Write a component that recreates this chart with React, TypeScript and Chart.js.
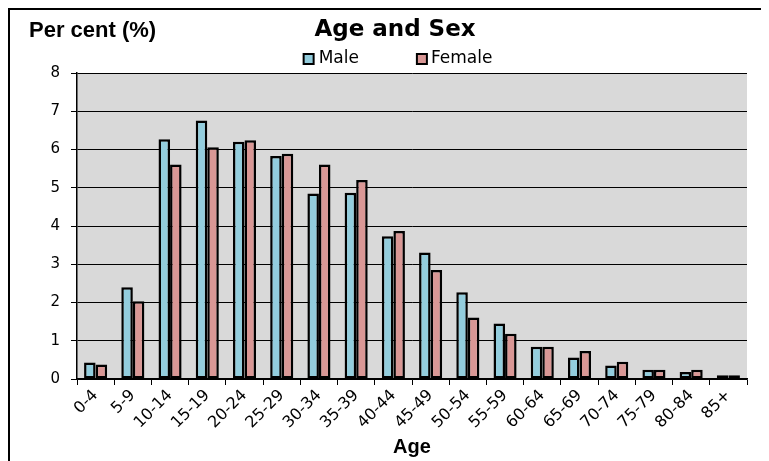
import React, { useEffect, useRef } from "react";
import { Chart, registerables } from "chart.js";

Chart.register(...registerables);

const categories = ["0-4", "5-9", "10-14", "15-19", "20-24", "25-29", "30-34", "35-39", "40-44", "45-49", "50-54", "55-59", "60-64", "65-69", "70-74", "75-79", "80-84", "85+"];
const maleValues = [0.43, 2.4, 6.27, 6.76, 6.2, 5.83, 4.85, 4.87, 3.73, 3.31, 2.27, 1.45, 0.84, 0.56, 0.35, 0.24, 0.18, 0.1];
const femaleValues = [0.38, 2.03, 5.61, 6.06, 6.24, 5.89, 5.61, 5.2, 3.87, 2.85, 1.61, 1.18, 0.84, 0.73, 0.45, 0.24, 0.24, 0.1];
const seriesNames = ["Male", "Female"];
const seriesColors = ["#93CDDD", "#D99795"];
const yTicks = [0, 1, 2, 3, 4, 5, 6, 7, 8];
const chartTitle = "Age and Sex";
const yAxisLabel = "Per cent (%)";
const xAxisLabel = "Age";

const bgPlugin = {
  id: "plotBg",
  beforeDraw(chart: any) {
    const { ctx, chartArea } = chart;
    ctx.save();
    ctx.fillStyle = "#D9D9D9";
    ctx.fillRect(chartArea.left, chartArea.top, chartArea.right - chartArea.left, chartArea.bottom - chartArea.top);
    ctx.restore();
  },
};

const extrasPlugin = {
  id: "extras",
  afterDraw(chart: any) {
    const { ctx, chartArea } = chart;
    ctx.save();
    ctx.fillStyle = "#000";
    ctx.font = "bold 22px 'Liberation Sans'";
    ctx.textAlign = "left";
    ctx.textBaseline = "middle";
    ctx.fillText(yAxisLabel, 19, 21);

    const tb = chart.titleBlock;
    const center = tb ? (tb.left + tb.right) / 2 + 3 : chart.width / 2;
    ctx.font = "17px 'DejaVu Sans'";
    const wM = ctx.measureText(seriesNames[0]).width;
    const wF = ctx.measureText(seriesNames[1]).width;
    const box = 10;
    const total = box + 5 + wM + 58 + box + 4 + wF;
    let x = center - total / 2;
    const y = chartArea.top - 14;
    const drawBox = (bx: number, color: string) => {
      ctx.fillStyle = color;
      ctx.fillRect(bx, y - box / 2, box, box);
      ctx.strokeStyle = "#000";
      ctx.lineWidth = 2;
      ctx.strokeRect(bx, y - box / 2, box, box);
    };
    drawBox(x, seriesColors[0]);
    x += box + 5;
    ctx.fillStyle = "#000";
    ctx.textBaseline = "middle";
    ctx.fillText(seriesNames[0], x, y);
    x += wM + 58;
    drawBox(x, seriesColors[1]);
    x += box + 4;
    ctx.fillStyle = "#000";
    ctx.fillText(seriesNames[1], x, y);
    ctx.restore();
  },
};

export default function App() {
  const canvasRef = useRef<HTMLCanvasElement | null>(null);

  useEffect(() => {
    document.documentElement.style.overflow = "hidden";
    document.body.style.overflow = "hidden";
    const canvas = canvasRef.current;
    if (!canvas) return;
    Chart.defaults.color = "#000";
    const chart = new Chart(canvas, {
      type: "bar",
      data: {
        labels: categories,
        datasets: [
          {
            label: seriesNames[0],
            data: maleValues,
            backgroundColor: seriesColors[0],
            borderColor: "#000",
            borderWidth: 2.5,
            borderSkipped: false,
            categoryPercentage: 0.62,
            barPercentage: 1.0,
          },
          {
            label: seriesNames[1],
            data: femaleValues,
            backgroundColor: seriesColors[1],
            borderColor: "#000",
            borderWidth: 2.5,
            borderSkipped: false,
            categoryPercentage: 0.62,
            barPercentage: 1.0,
          },
        ],
      },
      options: {
        responsive: false,
        animation: false,
        events: [],
        layout: { padding: { left: 33, right: 17, top: 0, bottom: 2 } },
        plugins: {
          legend: { display: false },
          tooltip: { enabled: false },
          title: {
            display: true,
            text: chartTitle,
            color: "#000",
            font: { family: "'DejaVu Sans'", size: 23, weight: "bold", lineHeight: 1.2 },
            padding: { top: 6, bottom: 29.4 },
          },
        },
        scales: {
          x: {
            offset: true,
            grid: {
              display: true,
              offset: true,
              drawOnChartArea: false,
              drawTicks: true,
              tickLength: 6,
              color: "#000",
              lineWidth: 1,
            },
            border: { display: true, color: "#000", width: 1.5 },
            ticks: {
              autoSkip: false,
              minRotation: 45,
              maxRotation: 45,
              padding: 1,
              color: "#000",
              font: { family: "'DejaVu Sans'", size: 16 },
            },
            title: {
              display: true,
              text: xAxisLabel,
              color: "#000",
              font: { family: "'Liberation Sans'", size: 20, weight: "bold", lineHeight: 1.2 },
              padding: { top: 0, bottom: 0 },
            },
            afterFit(scale: any) {
              scale.height = 80;
            },
          },
          y: {
            min: 0,
            max: 8,
            afterBuildTicks(scale: any) {
              scale.ticks = yTicks.map((v) => ({ value: v }));
            },
            grid: {
              color: "#000",
              lineWidth: 1,
              drawTicks: true,
              tickLength: 6,
            },
            border: { display: true, color: "#000", width: 1.5 },
            ticks: {
              padding: 11,
              color: "#000",
              font: { family: "'DejaVu Sans'", size: 15 },
            },
            afterFit(scale: any) {
              scale.width = 34;
            },
          },
        },
      },
      plugins: [bgPlugin, extrasPlugin],
    } as any);
    return () => {
      chart.destroy();
    };
  }, []);

  return (
    <div
      style={{
        position: "relative",
        width: 758,
        height: 455,
        border: "2px solid #000",
        boxSizing: "border-box",
        background: "#fff",
      }}
    >
      <canvas ref={canvasRef} width={754} height={451} style={{ display: "block" }} />
    </div>
  );
}
